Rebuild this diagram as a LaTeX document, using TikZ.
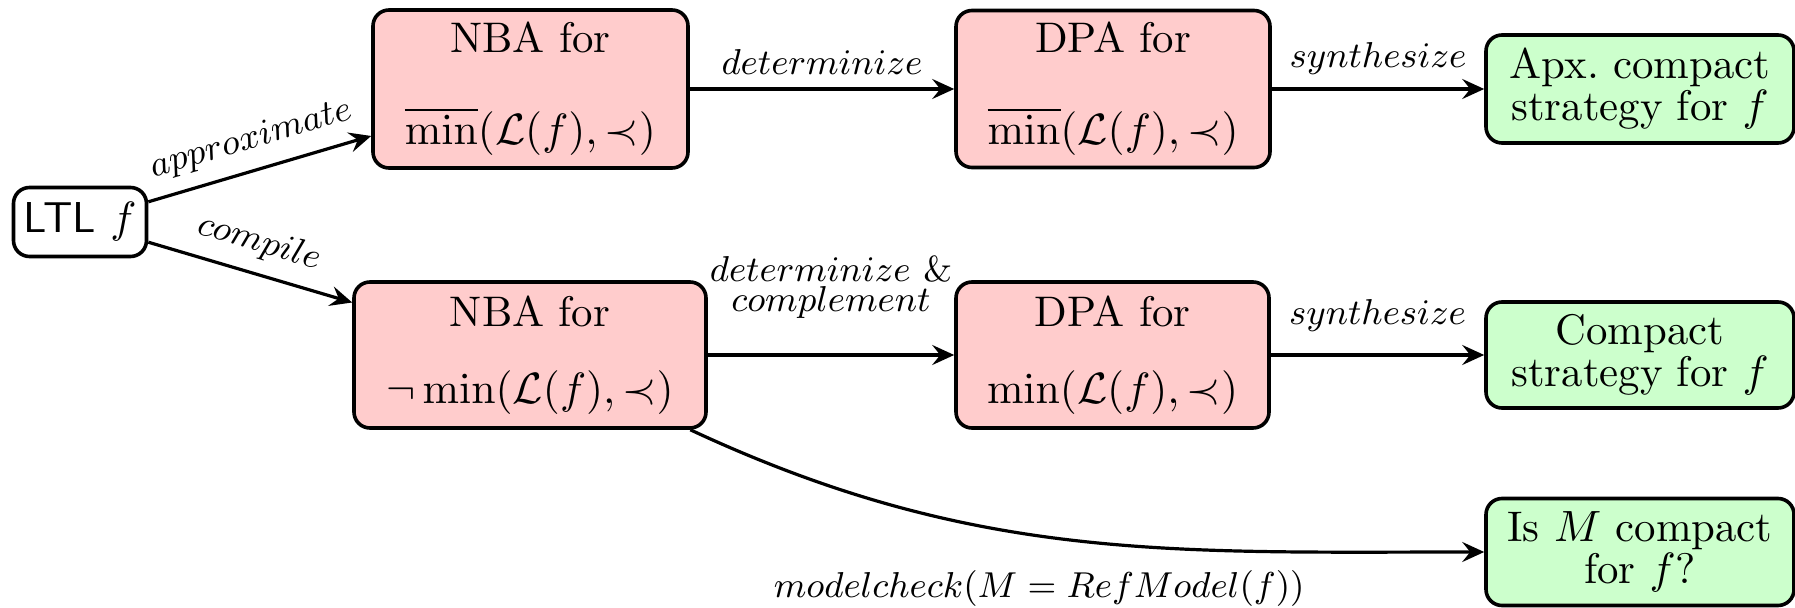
\documentclass[tikz,border=0pt]{standalone}
\usetikzlibrary{arrows.meta}
\definecolor{autfill}{RGB}{255,204,204}
\definecolor{resfill}{RGB}{204,255,204}
\begin{document}
\begin{tikzpicture}[x=0.25pt,y=-0.25pt,
  box/.style={draw, line width=0.9pt, rounded corners=4pt, align=center, inner sep=0pt},
  autom/.style={box, fill=autfill, font=\fontsize{10.7}{12.5}\selectfont},
  result/.style={box, fill=resfill, font=\fontsize{10.7}{10.5}\selectfont},
  flow/.style={-{Stealth[length=5.5pt,width=5pt,inset=2pt]}, line width=0.8pt},
  lbl/.style={font=\fontsize{9.2}{11}\selectfont}]
\useasboundingbox (0,0) rectangle (1795,608);

% input formula
\node[box, font=\fontsize{10.8}{12}\selectfont, minimum width=33.25pt, minimum height=17.25pt]
  (ltl) at (80,222) {\textsf{LTL} $f$};

% upper (approximate) pipeline
\node[autom, minimum width=78.75pt, minimum height=39.5pt] (nba1) at (530.5,89)
  {NBA for\\[10.5pt]$\overline{\min}(\mathcal{L}(f),\prec)$};
\node[autom, minimum width=78.5pt, minimum height=39.25pt] (dpa1) at (1113,89)
  {DPA for\\[10.5pt]$\overline{\min}(\mathcal{L}(f),\prec)$};
\node[result, minimum width=77pt, minimum height=27pt] (res1) at (1640,89)
  {Apx.\ compact\\strategy for $f$};

% lower (exact) pipeline
\node[autom, minimum width=88pt, minimum height=36.5pt] (nba2) at (530,355)
  {NBA for\\[6.75pt]$\neg\min(\mathcal{L}(f),\prec)$};
\node[autom, minimum width=78.25pt, minimum height=36.5pt] (dpa2) at (1112.5,355)
  {DPA for\\[6.75pt]$\min(\mathcal{L}(f),\prec)$};
\node[result, minimum width=77pt, minimum height=26.5pt] (res2) at (1640,355)
  {Compact\\strategy for $f$};

% model checking result
\node[result, minimum width=77pt, minimum height=26.75pt] (res3) at (1640,552)
  {Is $M$ compact\\for $f$?};

% transformations
\draw[flow] (ltl) -- node[lbl, sloped, above] {$approximate$} (nba1);
\draw[flow] (ltl) -- node[lbl, sloped, above] {$compile$} (nba2);
\draw[flow] (nba1) -- node[lbl, above] {$determinize$} (dpa1);
\draw[flow] (dpa1) -- node[lbl, above] {$synthesize$} (res1);
\draw[flow] (nba2) -- node[lbl, above, align=center, yshift=5.5pt]
  {$determinize\ \&$\\[-3.5pt]$complement$} (dpa2);
\draw[flow] (dpa2) -- node[lbl, above, yshift=2.25pt] {$synthesize$} (res2);
\draw[flow] (nba2) to[out=-25,in=180]
  node[pos=0.45, below, yshift=-5pt, font=\fontsize{8.6}{10}\selectfont]
  {$modelcheck(M = RefModel(f))$} (res3);
\end{tikzpicture}
\end{document}
